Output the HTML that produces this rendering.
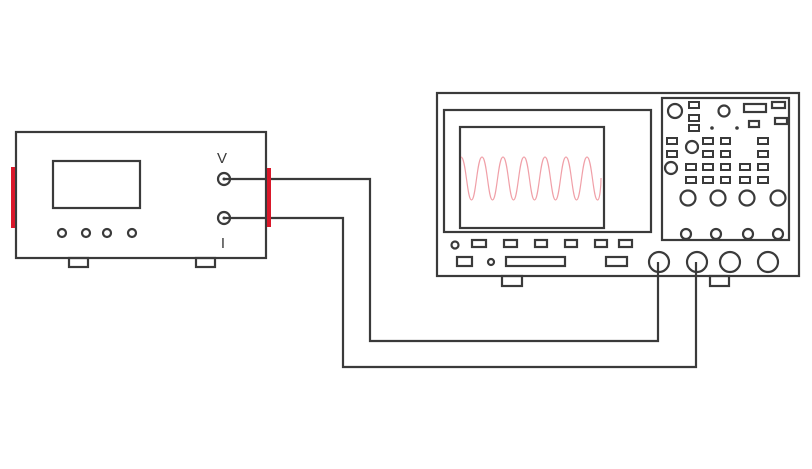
<!DOCTYPE html>
<html><head><style>html,body{margin:0;padding:0;background:#fff}svg{display:block}</style></head>
<body>
<svg width="812" height="469" viewBox="0 0 812 469" xmlns="http://www.w3.org/2000/svg">
<g fill="none" stroke="#3a3a3a" stroke-width="2.2">
<!-- source unit -->
<rect x="16" y="132" width="250" height="126" fill="#fff"/>
<rect x="53" y="161" width="87" height="47"/>
<circle cx="62" cy="233" r="4"/><circle cx="86" cy="233" r="4"/><circle cx="107" cy="233" r="4"/><circle cx="132" cy="233" r="4"/>
<rect x="69" y="258" width="19" height="9"/><rect x="196" y="258" width="19" height="9"/>
<circle cx="224" cy="179" r="6"/><circle cx="224" cy="218" r="6"/>
<!-- wires -->
<polyline points="224,179 370,179 370,341 658,341 658,262"/>
<polyline points="224,218 343,218 343,367 696,367 696,262"/>
<!-- scope -->
<rect x="437" y="93" width="362" height="183"/>
<rect x="444" y="110" width="207" height="122"/>
<rect x="460" y="127" width="144" height="101"/>
<rect x="662" y="98" width="127" height="142"/>
<rect x="502" y="276" width="20" height="10"/><rect x="710" y="276" width="19" height="10"/>
<circle cx="455" cy="245" r="3.5"/><circle cx="491" cy="262" r="3"/>
<rect x="472" y="240" width="14" height="7"/><rect x="504" y="240" width="13" height="7"/><rect x="535" y="240" width="12" height="7"/><rect x="565" y="240" width="12" height="7"/><rect x="595" y="240" width="12" height="7"/><rect x="619" y="240" width="13" height="7"/>
<rect x="457" y="257" width="15" height="9"/><rect x="506" y="257" width="59" height="9"/><rect x="606" y="257" width="21" height="9"/>
<circle cx="659" cy="262" r="10"/><circle cx="697" cy="262" r="10"/><circle cx="730" cy="262" r="10"/><circle cx="768" cy="262" r="10"/>
<circle cx="688" cy="198" r="7.5"/><circle cx="718" cy="198" r="7.5"/><circle cx="747" cy="198" r="7.5"/><circle cx="778" cy="198" r="7.5"/>
<circle cx="686" cy="234" r="5"/><circle cx="716" cy="234" r="5"/><circle cx="748" cy="234" r="5"/><circle cx="778" cy="234" r="5"/>
<circle cx="675" cy="111" r="7"/><circle cx="724" cy="111" r="5.5"/><circle cx="692" cy="147" r="6"/><circle cx="671" cy="168" r="6"/>
<rect x="744" y="104" width="22" height="8"/><rect x="772" y="102" width="13" height="6"/><rect x="775" y="118" width="12" height="6"/><rect x="749" y="121" width="10" height="6"/>
<g stroke-width="2">
<rect x="689" y="102" width="10" height="6"/><rect x="689" y="115" width="10" height="6"/><rect x="689" y="125" width="10" height="6"/>
<rect x="667" y="138" width="10" height="6"/><rect x="703" y="138" width="10" height="6"/><rect x="721" y="138" width="9" height="6"/><rect x="758" y="138" width="10" height="6"/>
<rect x="667" y="151" width="10" height="6"/><rect x="703" y="151" width="10" height="6"/><rect x="721" y="151" width="9" height="6"/><rect x="758" y="151" width="10" height="6"/>
<rect x="686" y="164" width="10" height="6"/><rect x="703" y="164" width="10" height="6"/><rect x="721" y="164" width="9" height="6"/><rect x="740" y="164" width="10" height="6"/><rect x="758" y="164" width="10" height="6"/>
<rect x="686" y="177" width="10" height="6"/><rect x="703" y="177" width="10" height="6"/><rect x="721" y="177" width="9" height="6"/><rect x="740" y="177" width="10" height="6"/><rect x="758" y="177" width="10" height="6"/>
</g>
</g>
<circle cx="712" cy="128" r="1.8" fill="#3a3a3a"/><circle cx="737" cy="128" r="1.8" fill="#3a3a3a"/>
<circle cx="224" cy="179" r="1.5" fill="#3a3a3a"/><circle cx="224" cy="218" r="1.5" fill="#3a3a3a"/>
<rect x="11" y="167" width="4" height="61" fill="#d9182a"/>
<rect x="267" y="168" width="4" height="59" fill="#d9182a"/>
<path d="M461,157 C466,157 467,200 471.5,200 C476,200 477,157 482,157 C487,157 488,200 492.5,200 C497,200 498,157 503,157 C508,157 509,200 513.5,200 C518,200 519,157 524,157 C529,157 530,200 534.5,200 C539,200 540,157 545,157 C550,157 551,200 555.5,200 C560,200 561,157 566,157 C571,157 572,200 576.5,200 C581,200 582,157 587,157 C592,157 593,200 597.5,200 C600,200 601,185 601,178" fill="none" stroke="#f0a0a8" stroke-width="1.2"/>
<text x="222" y="163" font-family="Liberation Sans, sans-serif" font-size="15" fill="#3a3a3a" text-anchor="middle">V</text>
<text x="223" y="248" font-family="Liberation Sans, sans-serif" font-size="15" fill="#3a3a3a" text-anchor="middle">I</text>
</svg>
</body></html>
